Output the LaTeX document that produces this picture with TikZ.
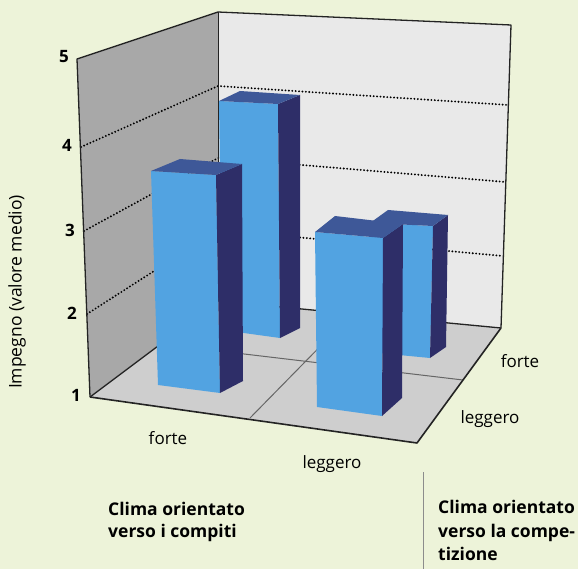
\documentclass[tikz,border=0pt]{standalone}
\usepackage{fontspec}
\setmainfont{Open Sans}
\definecolor{bg}{RGB}{237,243,217}
\definecolor{lwall}{RGB}{168,168,168}
\definecolor{bwall}{RGB}{233,233,233}
\definecolor{floorc}{RGB}{206,206,206}
\definecolor{barfront}{RGB}{82,163,225}
\definecolor{barside}{RGB}{46,46,104}
\definecolor{bartop}{RGB}{62,88,152}
\definecolor{edgec}{RGB}{35,35,35}
\newcommand{\drawbar}[7]{%
  \fill[barfront] #1 -- #2 -- #5 -- #4 -- cycle;
  \fill[barside] #2 -- #3 -- #6 -- #5 -- cycle;
  \fill[bartop] #4 -- #5 -- #6 -- #7 -- cycle;
}
\tikzset{
  wallline/.style={draw=edgec, line width=1.3pt, line join=round},
  gridline/.style={draw=black!60, line width=1pt},
  dotline/.style={draw=black, line width=2.1pt, line cap=round, dash pattern=on 0pt off 3.4pt},
  ticklab/.style={font=\fontsize{17}{20}\selectfont\bfseries, inner sep=0pt},
  catlab/.style={font=\fontsize{17}{20}\selectfont, inner sep=0pt, anchor=base},
  titlelab/.style={font=\fontsize{17.5}{20}\selectfont\bfseries, inner sep=0pt, anchor=base west}
}
\begin{document}
\begin{tikzpicture}[x=1pt,y=-1pt]
\useasboundingbox (0,0) rectangle (578,569);
\fill[bg] (0,0) rectangle (578,569);
% walls and floor
\coordinate (BTLw) at (218,12);
\coordinate (BTRw) at (511,25);
\coordinate (BBRw) at (501,328);
\coordinate (BBLw) at (218,301);
\coordinate (LTF) at (77,59);
\coordinate (LBF) at (90,397);
\coordinate (FR) at (417,443);
\fill[bwall] (BTLw) -- (BTRw) -- (BBRw) -- (BBLw) -- cycle;
\fill[lwall] (LTF) -- (BTLw) -- (BBLw) -- (LBF) -- cycle;
\fill[floorc] (LBF) -- (BBLw) -- (BBRw) -- (FR) -- cycle;
% floor grid
\draw[gridline] (250,418) -- (352,314);
\draw[gridline] (160,344) -- (463,380);
% dotted level lines
\draw[dotline] (81,147) -- (218,86) -- (508,105);
\draw[dotline] (84,231) -- (218,158) -- (505.5,182);
\draw[dotline] (87,314) -- (218,230) -- (503,256);
% outlines
\draw[wallline] (LBF) -- (LTF) -- (BTLw) -- (BTRw) -- (BBRw);
\draw[draw=edgec, line width=1pt] (BTLw) -- (BBLw);
\draw[wallline] (LBF) -- (BBLw) -- (BBRw);
\draw[wallline, line width=1.6pt] (LBF) -- (FR) -- (BBRw);
% bars: FBL FBR SBB FTL FTR BTR BTL
\drawbar{(222,330)}{(280,338)}{(300,328)}{(219,101)}{(278,104)}{(300,95)}{(240,91)}
\drawbar{(368,352)}{(430,358)}{(446,347)}{(370,223)}{(433,226)}{(448,215)}{(388,210)}
\drawbar{(158,385)}{(220,393)}{(243,381)}{(151,171)}{(216,175)}{(242,164)}{(180,159)}
\drawbar{(317,407)}{(382,416)}{(402,398)}{(315,232)}{(383,238)}{(403,224)}{(335,216)}
% tick labels
\node[ticklab] (t5) at (64,57) {5};
\node[ticklab] (t4) at (67,145) {4};
\node[ticklab] (t3) at (70,230) {3};
\node[ticklab] (t2) at (72,313) {2};
\node[ticklab] (t1) at (76,395) {1};
\node[font=\fontsize{17.5}{20}\selectfont, inner sep=0pt, rotate=90] (ytitle) at (17,292) {Impegno (valore medio)};
% category labels
\node[catlab] (cf1) at (168,444) {forte};
\node[catlab] (cl1) at (332,468) {leggero};
\node[catlab] (cf2) at (520,367) {forte};
\node[catlab] (cl2) at (490,423) {leggero};
% group titles
\node[titlelab] (g1a) at (108,515) {Clima orientato};
\node[titlelab] (g1b) at (108,537) {verso i compiti};
\node[titlelab] (g2a) at (438,513) {Clima orientato};
\node[titlelab] (g2b) at (438,537) {verso la compe-};
\node[titlelab] (g2c) at (438,560) {tizione};
\draw[draw=black!45, line width=1pt] (423,472) -- (423,569);
\end{tikzpicture}
\end{document}
